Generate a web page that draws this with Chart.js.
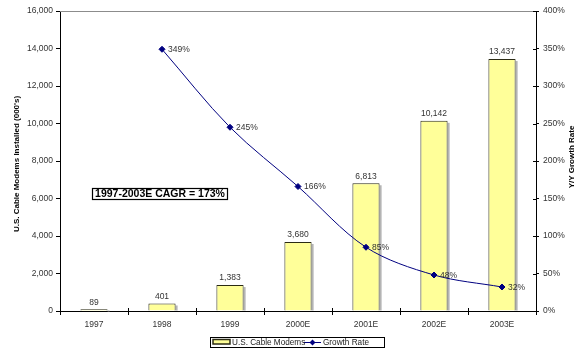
<!DOCTYPE html>
<html>
<head>
<meta charset="utf-8">
<script src="https://cdn.jsdelivr.net/npm/chart.js@4.4.1/dist/chart.umd.min.js"></script>
<style>
  html, body { margin: 0; padding: 0; background: #ffffff; }
  #wrap { width: 579px; height: 350px; position: relative; }
</style>
</head>
<body>
<div id="wrap"><canvas id="chart"></canvas></div>
<script>
// Installed cable modems in the U.S. (thousands) and year-over-year growth (%)
const years = ['1997', '1998', '1999', '2000E', '2001E', '2002E', '2003E'];
const modems = [89, 401, 1383, 3680, 6813, 10142, 13437];
const growth = [null, 349, 245, 166, 85, 48, 32];
const cagrLabel = '1997-2003E CAGR = 173%';
const modemsLabel = 'U.S. Cable Modems';
const growthLabel = 'Growth Rate';
const leftTitle = 'U.S. Cable Modems Installed (000\'s)';
const rightTitle = 'Y/Y Growth Rate';

const FONT = '"Liberation Sans", Arial, sans-serif';
const BAR_FILL = '#FFFF99';
const BAR_EDGE = '#2b2b14';
const LINE = '#000080';

const decorations = {
  id: 'decorations',
  beforeDatasetsDraw(chart) {
    // soft grey drop shadow behind each bar
    const ctx = chart.ctx;
    const meta = chart.getDatasetMeta(0);
    ctx.save();
    ctx.fillStyle = '#b4b4b4';
    meta.data.forEach(bar => {
      const w = bar.width;
      ctx.fillRect(bar.x + w / 2, bar.y + 2, 2, bar.base - bar.y - 2);
    });
    ctx.restore();
  },
  afterDatasetsDraw(chart) {
    const ctx = chart.ctx;
    const area = chart.chartArea;
    const xs = chart.scales.x;
    const y1 = chart.scales.y1;
    ctx.save();

    // thin grey frame line along the top of the plot
    ctx.strokeStyle = '#8c8c8c';
    ctx.lineWidth = 1;
    ctx.beginPath();
    ctx.moveTo(area.left, area.top + 0.5);
    ctx.lineTo(area.right, area.top + 0.5);
    ctx.stroke();

    // inner halves of the crossing tick marks (bottom and right axes)
    ctx.strokeStyle = '#000000';
    ctx.beginPath();
    for (let i = 0; i < years.length - 1; i++) {
      const bx = Math.round((xs.getPixelForTick(i) + xs.getPixelForTick(i + 1)) / 2) + 0.5;
      ctx.moveTo(bx, area.bottom - 3);
      ctx.lineTo(bx, area.bottom);
    }
    y1.ticks.forEach((t, i) => {
      const ty = Math.round(y1.getPixelForTick(i)) + 0.5;
      ctx.moveTo(area.right - 3, ty);
      ctx.lineTo(area.right, ty);
    });
    ctx.stroke();

    // value labels above the bars
    ctx.fillStyle = '#333333';
    ctx.font = '8.5px ' + FONT;
    ctx.textAlign = 'center';
    ctx.textBaseline = 'middle';
    chart.getDatasetMeta(0).data.forEach((bar, i) => {
      ctx.fillText(modems[i].toLocaleString('en-US'), bar.x, bar.y - 7);
    });

    // growth labels to the right of each point
    ctx.textAlign = 'left';
    chart.getDatasetMeta(1).data.forEach((pt, i) => {
      if (growth[i] == null) return;
      ctx.fillText(growth[i] + '%', pt.x + 6, pt.y + 0.5);
    });

    // CAGR callout box
    ctx.font = 'bold 10.5px ' + FONT;
    const bx = 92, by = 188, bw = 135, bh = 11;
    ctx.fillStyle = '#ffffff';
    ctx.fillRect(bx, by, bw, bh);
    ctx.strokeStyle = '#000000';
    ctx.lineWidth = 1.2;
    ctx.strokeRect(bx + 0.5, by + 0.5, bw, bh);
    ctx.fillStyle = '#000000';
    ctx.textAlign = 'center';
    ctx.fillText(cagrLabel, bx + bw / 2 + 0.5, by + bh / 2 + 1);

    // legend
    ctx.lineWidth = 1;
    ctx.fillStyle = '#ffffff';
    ctx.fillRect(210, 337, 174, 10);
    ctx.strokeStyle = '#000000';
    ctx.strokeRect(210.5, 337.5, 174, 10);
    ctx.fillStyle = BAR_FILL;
    ctx.fillRect(213, 339.5, 17, 4.5);
    ctx.strokeStyle = BAR_EDGE;
    ctx.lineWidth = 1.5;
    ctx.strokeRect(213, 339.5, 17, 4.5);
    ctx.strokeStyle = LINE;
    ctx.lineWidth = 1;
    ctx.beginPath();
    ctx.moveTo(304, 342.5);
    ctx.lineTo(321, 342.5);
    ctx.stroke();
    ctx.fillStyle = LINE;
    ctx.beginPath();
    ctx.moveTo(312.5, 339.5);
    ctx.lineTo(315.5, 342.5);
    ctx.lineTo(312.5, 345.5);
    ctx.lineTo(309.5, 342.5);
    ctx.closePath();
    ctx.fill();
    ctx.fillStyle = '#222222';
    ctx.font = '8.2px ' + FONT;
    ctx.textAlign = 'left';
    ctx.fillText(modemsLabel, 232, 342.5);
    ctx.fillText(growthLabel, 323, 342.5);

    // axis titles, both reading bottom to top
    ctx.font = 'bold 8px ' + FONT;
    ctx.fillStyle = '#000000';
    ctx.textAlign = 'center';
    ctx.save();
    ctx.translate(17, 164);
    ctx.rotate(-Math.PI / 2);
    ctx.fillText(leftTitle, 0, 0);
    ctx.restore();
    ctx.save();
    ctx.translate(572, 157);
    ctx.rotate(-Math.PI / 2);
    ctx.fillText(rightTitle, 0, 0);
    ctx.restore();

    ctx.restore();
  }
};

new Chart(document.getElementById('chart'), {
  data: {
    labels: years,
    datasets: [
      {
        type: 'bar',
        label: modemsLabel,
        data: modems,
        yAxisID: 'y',
        backgroundColor: BAR_FILL,
        borderColor: BAR_EDGE,
        borderWidth: 1,
        barPercentage: 0.4,
        categoryPercentage: 1.0,
        order: 2
      },
      {
        type: 'line',
        label: growthLabel,
        data: growth,
        yAxisID: 'y1',
        borderColor: LINE,
        borderWidth: 1,
        backgroundColor: LINE,
        pointStyle: 'rectRot',
        pointRadius: 3,
        pointHoverRadius: 3,
        pointBackgroundColor: LINE,
        pointBorderColor: LINE,
        tension: 0.33,
        fill: false,
        order: 1
      }
    ]
  },
  options: {
    responsive: true,
    maintainAspectRatio: false,
    animation: false,
    devicePixelRatio: 1,
    layout: { padding: { top: 11, left: 0, right: 0, bottom: 0 } },
    plugins: {
      legend: { display: false },
      tooltip: { enabled: false }
    },
    scales: {
      x: {
        offset: true,
        grid: { offset: true, drawOnChartArea: false, drawTicks: true, tickLength: 4, color: '#000000' },
        border: { color: '#000000', width: 1 },
        ticks: { color: '#333333', font: { family: FONT, size: 8.5 }, padding: 5, maxRotation: 0 },
        afterFit(scale) { scale.height = 39; }
      },
      y: {
        position: 'left',
        min: 0,
        max: 16000,
        grid: { drawOnChartArea: false, drawTicks: true, tickLength: 4, color: '#000000' },
        border: { color: '#000000', width: 1 },
        ticks: {
          stepSize: 2000,
          color: '#333333',
          font: { family: FONT, size: 8.5 },
          padding: 3,
          callback: v => v.toLocaleString('en-US')
        },
        afterFit(scale) { scale.width = 60; }
      },
      y1: {
        position: 'right',
        min: 0,
        max: 400,
        grid: { drawOnChartArea: false, drawTicks: true, tickLength: 3, color: '#000000' },
        border: { color: '#000000', width: 1 },
        ticks: {
          stepSize: 50,
          color: '#333333',
          font: { family: FONT, size: 8.5 },
          padding: 4,
          callback: v => v + '%'
        },
        afterFit(scale) { scale.width = 43; }
      }
    }
  },
  plugins: [decorations]
});
</script>
</body>
</html>
